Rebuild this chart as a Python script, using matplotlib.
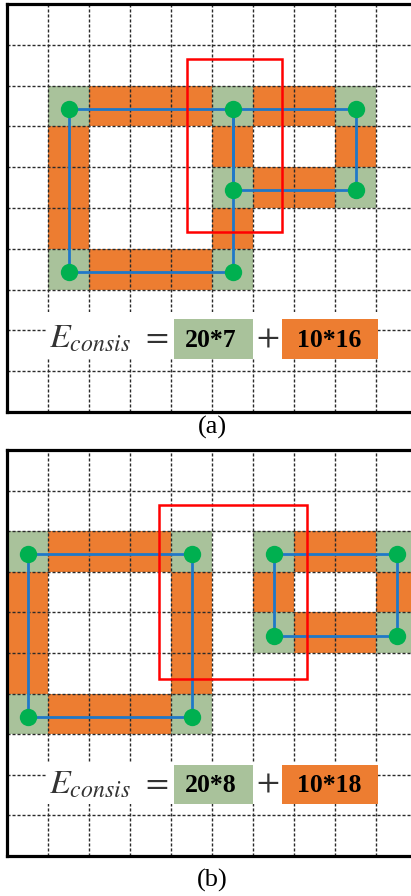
import matplotlib.pyplot as plt
from matplotlib.patches import Rectangle

plt.rcParams['mathtext.fontset'] = 'stix'

W, H, DPI = 411, 896, 100
CELL = 41.0

GREEN = '#a9c29b'
ORANGE = '#ed7d31'
DOT = '#00b050'
BLUE = '#1f78c8'
RED = '#ff0000'
INK = '#333333'

# panel (a): cells given as (column, row), row 0 at the top
a_green = [(1, 2), (5, 2), (8, 2), (5, 4), (8, 4), (1, 6), (5, 6)]
a_orange = [(2, 2), (3, 2), (4, 2), (6, 2), (7, 2),
            (1, 3), (5, 3), (8, 3),
            (1, 4), (6, 4), (7, 4),
            (1, 5), (5, 5),
            (2, 6), (3, 6), (4, 6)]
a_loops = [[(1, 2), (5, 2), (5, 6), (1, 6)],
           [(5, 2), (8, 2), (8, 4), (5, 4)]]
a_window = (4.40, 1.35, 6.71, 5.60)
a_terms = ('20*7', '10*16')

# panel (b)
b_green = [(0, 2), (4, 2), (6, 2), (9, 2), (6, 4), (9, 4), (0, 6), (4, 6)]
b_orange = [(1, 2), (2, 2), (3, 2), (7, 2), (8, 2),
            (0, 3), (4, 3), (6, 3), (9, 3),
            (0, 4), (4, 4), (7, 4), (8, 4),
            (0, 5), (4, 5),
            (1, 6), (2, 6), (3, 6)]
b_loops = [[(0, 2), (4, 2), (4, 6), (0, 6)],
           [(6, 2), (9, 2), (9, 4), (6, 4)]]
b_window = (3.71, 1.35, 7.31, 5.65)
b_terms = ('20*8', '10*18')


def node(c):
    # dot sits at the cell centre, a touch low
    return c[0] + 0.5, c[1] + 0.57


def draw_panel(ax, green, orange, loops, window, terms, band):
    ax.set_xlim(0, (W - 7) / CELL)
    ax.set_ylim(10, 0)
    ax.set_xticks([])
    ax.set_yticks([])
    for s in ['left', 'top', 'bottom']:
        ax.spines[s].set_linewidth(2.3)
        ax.spines[s].set_color('black')
    ax.spines['right'].set_visible(False)

    for c, r in green:
        ax.add_patch(Rectangle((c, r), 1, 1, facecolor=GREEN, edgecolor='none', zorder=1))
    for c, r in orange:
        ax.add_patch(Rectangle((c, r), 1, 1, facecolor=ORANGE, edgecolor='none', zorder=1))

    for i in range(1, 10):
        ax.axvline(i, color='#2a2a2a', lw=1.0, ls=(0, (2.2, 1.4)), zorder=2)
        ax.axhline(i, color='#2a2a2a', lw=1.0, ls=(0, (2.2, 1.4)), zorder=2)

    x0, y0, x1, y1 = window
    ax.add_patch(Rectangle((x0, y0), x1 - x0, y1 - y0, facecolor='none',
                           edgecolor=RED, lw=1.8, zorder=6))

    for loop in loops:
        pts = [node(c) for c in loop] + [node(loop[0])]
        ax.plot([p[0] for p in pts], [p[1] for p in pts], color=BLUE, lw=2.0,
                zorder=5, solid_capstyle='round')
    xs = [node(c)[0] for c in green]
    ys = [node(c)[1] for c in green]
    ax.plot(xs, ys, 'o', color=DOT, ms=12.5, mec='none', zorder=7)

    # equation row, grid hidden behind it
    top, bot = band
    ax.add_patch(Rectangle((0.97, top), 9.05 - 0.97, bot - top, facecolor='white',
                           edgecolor='none', zorder=3))
    by0, by1 = bot - 0.98, bot
    ax.add_patch(Rectangle((4.07, by0), 6.01 - 4.07, by1 - by0, facecolor=GREEN,
                           edgecolor='none', zorder=4))
    ax.add_patch(Rectangle((6.70, by0), 9.04 - 6.70, by1 - by0, facecolor=ORANGE,
                           edgecolor='none', zorder=4))
    ym = (by0 + by1) / 2
    ax.text(1.03, ym - 0.02, r'$E_{consis}$', fontsize=24.5, color=INK, ha='left',
            va='center', zorder=5)
    ax.text(3.61, ym - 0.08, r'$=$', fontsize=24, color=INK, ha='center',
            va='center', zorder=5)
    ax.text(6.35, ym - 0.08, r'$+$', fontsize=24, color=INK, ha='center',
            va='center', zorder=5)
    ax.text(4.97, ym + 0.03, terms[0], fontsize=18.5, fontweight='bold',
            family='Liberation Serif', color='black', ha='center', va='center', zorder=5)
    ax.text(7.87, ym + 0.03, terms[1], fontsize=18.5, fontweight='bold',
            family='Liberation Serif', color='black', ha='center', va='center', zorder=5)


fig = plt.figure(figsize=(W / DPI, H / DPI), dpi=DPI)

ax_a = fig.add_axes([7 / W, (H - 412) / H, (W - 7) / W, 408 / H])
draw_panel(ax_a, a_green, a_orange, a_loops, a_window, a_terms, (7.54, 8.70))

ax_b = fig.add_axes([7 / W, (H - 856) / H, (W - 7) / W, 406 / H])
draw_panel(ax_b, b_green, b_orange, b_loops, b_window, b_terms, (7.70, 8.73))

fig.text(212 / W, 1 - 427 / H, '(a)', fontsize=19, family='Liberation Serif',
         ha='center', va='center')
fig.text(212 / W, 1 - 880 / H, '(b)', fontsize=19, family='Liberation Serif',
         ha='center', va='center')

fig.savefig('out.png', dpi=DPI)
